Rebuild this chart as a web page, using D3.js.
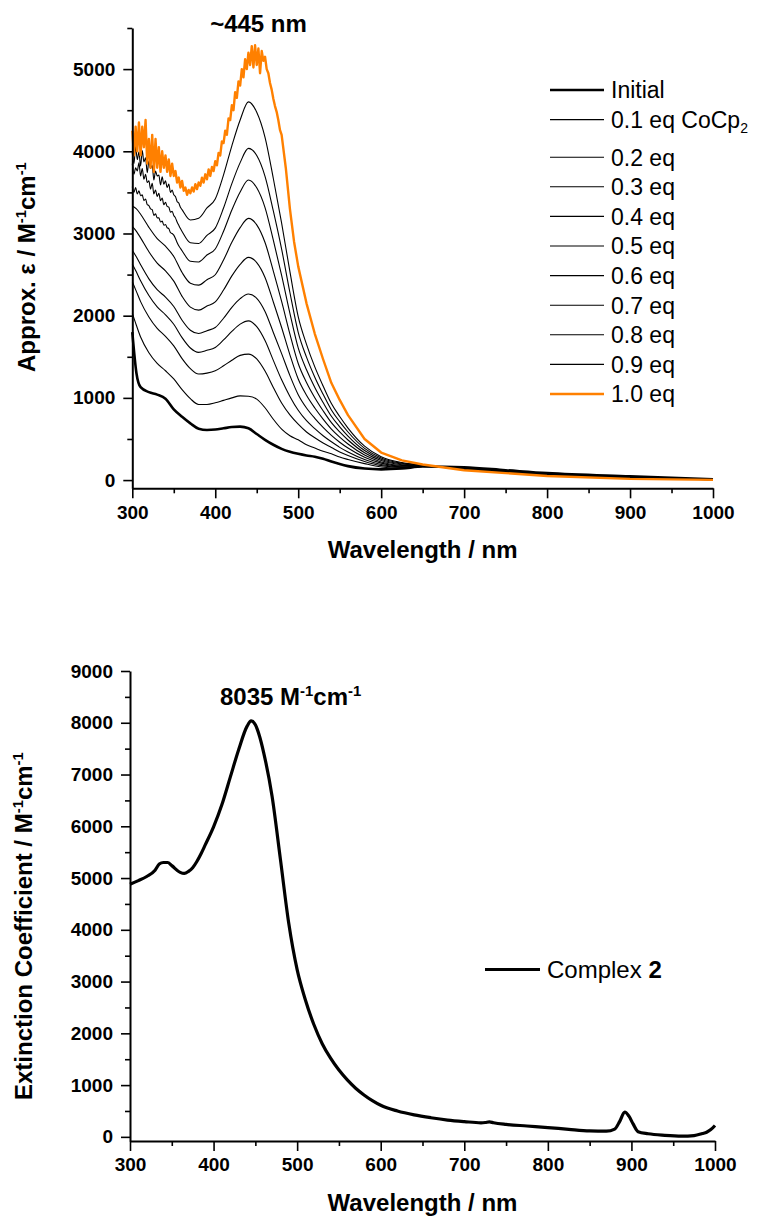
<!DOCTYPE html>
<html><head><meta charset="utf-8">
<script src="https://cdn.jsdelivr.net/npm/d3@7"></script>
<style>
body{margin:0;background:#fff}
svg{display:block}
text{font-family:"Liberation Sans",Arial,sans-serif;fill:#000}
</style>
</head><body>
<svg id="c" width="757" height="1217"></svg>
<script>
// ---------------- DATA ----------------
const wavelengths = [300,305,310,320,330,340,350,360,370,380,390,400,410,420,430,440,450,460,470,480,490,500,510,520,530,540,550,560,580,600,625,650,700,750,800,900,1000];
const initialEps = [1800,1300,1130,1070,1040,990,860,770,690,625,610,615,630,645,650,630,560,490,430,380,345,320,300,285,260,225,195,170,140,130,140,165,155,120,85,45,10];
const eq01 = [2030,1880,1740,1550,1420,1330,1230,1100,990,920,920,940,970,1000,1025,1020,985,880,740,620,540,490,430,390,350,320,280,250,200,160,145,165,150,118,84,44,10];
const eq02 = [2413,2293,2171,1985,1845,1749,1633,1478,1356,1290,1301,1329,1390,1458,1517,1532,1474,1326,1127,938,793,680,585,515,451,397,343,299,227,176,154,167,147,115,81,41,9];
const eq03 = [2630,2531,2424,2245,2106,2011,1896,1733,1607,1554,1579,1614,1705,1809,1897,1937,1866,1697,1456,1220,1018,849,722,626,540,466,398,342,251,190,161,169,145,112,78,39,9];
const eq04 = [2796,2713,2620,2448,2316,2227,2112,1945,1823,1783,1818,1856,1969,2101,2207,2263,2212,2052,1796,1538,1271,1039,877,751,641,544,461,390,278,206,170,172,142,109,75,36,8];
const eq05 = [3086,3026,2947,2778,2639,2546,2420,2235,2104,2068,2118,2167,2312,2484,2625,2709,2646,2465,2167,1856,1524,1229,1032,877,742,621,523,439,305,221,178,174,139,106,72,34,8];
const eq06 = [3334,3299,3234,3075,2938,2846,2721,2525,2396,2372,2438,2498,2678,2892,3071,3184,3105,2890,2543,2173,1776,1418,1187,1002,843,698,586,488,332,237,187,176,137,103,69,31,7];
const eq07 = [3541,3526,3478,3330,3199,3114,2988,2788,2662,2654,2738,2812,3027,3286,3505,3651,3556,3315,2918,2491,2029,1608,1342,1127,944,776,648,536,359,253,195,178,134,101,66,29,6];
const eq08 = [3790,3794,3757,3608,3469,3376,3242,3023,2888,2879,2977,3065,3310,3606,3862,4035,3948,3695,3274,2809,2282,1798,1496,1252,1044,853,711,585,386,269,204,181,131,98,63,26,6];
const eq09 = [3934,3959,3938,3813,3689,3615,3494,3285,3164,3185,3311,3420,3714,4067,4381,4601,4475,4170,3669,3126,2535,1988,1651,1377,1145,931,773,633,413,284,212,183,129,95,60,23,5];

// noisy short-wavelength segments (300–360 nm) of the upper traces
const noisyWl = [300,302,304,306,308,310,312,314,316,318,320,322,324,326,328,330,332,334,336,338,340,342,344,346,348,350,352,354,356,358,360];
const eq07Noisy = [3570,3500,3560,3480,3520,3460,3470,3400,3420,3350,3340,3300,3290,3220,3240,3190,3190,3140,3150,3100,3110,3070,3060,3010,3000,2980,2940,2890,2850,2820,2790];
const eq08Noisy = [3850,3720,3800,3760,3860,3700,3790,3660,3720,3620,3640,3540,3610,3480,3530,3450,3490,3400,3430,3350,3380,3330,3320,3260,3270,3220,3190,3140,3100,3060,3025];
const eq09Noisy = [3980,3850,4060,3900,3990,3820,4010,3870,3920,3740,3880,3790,3830,3650,3760,3700,3710,3590,3690,3600,3640,3560,3600,3500,3530,3470,3450,3390,3370,3320,3290];

// 1.0 eq (noisy trace, own wavelength grid)
const wavelengths10 = [300,302,304,306,308,310,312,314,316,318,320,322,324,326,328,330,332,334,336,338,340,342,344,346,348,350,352,354,356,358,360,362,364,366,368,370,372,374,376,378,380,382,384,386,388,390,392,394,396,398,400,402,404,406,408,410,412,414,416,418,420,422,424,426,428,430,432,434,436,438,440,442,444,446,448,450,452,454,456,458,460,462,464,466,468,470,472,474,476,478,480,485,490,495,500,510,520,530,540,550,560,580,600,625,650,700,750,800,900,1000];
const eq10 = [4250,3950,4300,4000,4350,3950,4300,4050,4380,3850,4150,3800,4200,3750,4150,3800,4050,3750,4000,3800,3950,3750,3900,3700,3850,3700,3760,3620,3680,3560,3640,3520,3560,3470,3530,3490,3560,3510,3600,3540,3620,3580,3680,3620,3720,3660,3780,3700,3810,3760,3880,3830,3980,3950,4120,4100,4250,4200,4400,4380,4560,4500,4720,4650,4850,4800,5000,4900,5120,5000,5200,5050,5280,5020,5290,5050,5250,4950,5220,5100,5150,5000,4950,4830,4750,4640,4550,4480,4380,4260,4200,3800,3300,2900,2600,2150,1780,1470,1180,975,790,500,335,240,190,120,85,50,15,3];

const seriesLabels = ["Initial","0.1 eq CoCp","0.2 eq","0.3 eq","0.4 eq","0.5 eq","0.6 eq","0.7 eq","0.8 eq","0.9 eq","1.0 eq"];

// Complex 2
const complexWl = [300,310,320,330,335,340,345,350,360,365,370,375,380,385,390,400,410,420,430,440,445,450,455,460,470,480,490,500,510,520,530,540,550,560,570,580,590,600,620,640,660,680,700,720,725,730,735,750,775,800,825,850,870,880,886,892,897,902,908,920,940,960,975,985,990,995,1000];
const complexEps = [4880,4950,5030,5150,5270,5300,5300,5240,5110,5090,5130,5200,5320,5470,5640,5990,6420,6950,7480,7930,8035,7960,7740,7420,6580,5360,4120,3230,2640,2170,1800,1520,1290,1100,940,810,700,610,500,425,370,325,295,272,277,290,272,240,210,180,145,115,110,150,300,480,400,250,100,60,30,15,25,65,90,140,220];

const xMajor = [300,400,500,600,700,800,900,1000];
const xMinor = [350,450,550,650,750,850,950];
const yTopMajor = [0,1000,2000,3000,4000,5000];
const yTopMinor = [500,1500,2500,3500,4500,5500];
const yBotMajor = [0,1000,2000,3000,4000,5000,6000,7000,8000,9000];
const yBotMinor = [500,1500,2500,3500,4500,5500,6500,7500,8500];

// ---------------- DRAWING ----------------
const svg = d3.select("#c");
const ORANGE = "#ff8000";
const FONT = '"Liberation Sans",Arial,sans-serif';

function axes(g, x, y, yMaj, yMin) {
  g.append("g").attr("transform", `translate(0,${y.range()[0]})`)
    .call(d3.axisBottom(x).tickValues(xMajor).tickSize(10).tickSizeOuter(0).tickPadding(7).tickFormat(d3.format("d")));
  g.append("g").attr("transform", `translate(0,${y.range()[0]})`)
    .call(d3.axisBottom(x).tickValues(xMinor).tickSize(5).tickSizeOuter(0).tickFormat(""))
    .select(".domain").remove();
  g.append("g").attr("transform", `translate(${x.range()[0]},0)`)
    .call(d3.axisLeft(y).tickValues(yMaj).tickSize(9).tickSizeOuter(0).tickPadding(8).tickFormat(d3.format("d")));
  g.append("g").attr("transform", `translate(${x.range()[0]},0)`)
    .call(d3.axisLeft(y).tickValues(yMin).tickSize(5).tickSizeOuter(0).tickFormat(""))
    .select(".domain").remove();
  g.selectAll(".domain").attr("stroke", "#000").attr("stroke-width", 2);
  g.selectAll(".tick line").attr("stroke", "#000").attr("stroke-width", 1.6);
  g.selectAll(".tick text").attr("font-size", 19).attr("font-weight", "bold")
    .attr("font-family", FONT).attr("fill", "#000");
}

function supText(t, parts, size) {
  parts.forEach(p => {
    const ts = t.append("tspan").text(p.t);
    if (p.sup) ts.attr("font-size", size * 0.62).attr("dy", -size * 0.38);
    else if (p.back) ts.attr("dy", size * 0.38);
  });
}

function withNoise(base, noisyW, noisyV) {
  const pts = noisyW.map((w, i) => [w, noisyV[i]]);
  const last = noisyW[noisyW.length - 1];
  wavelengths.forEach((w, i) => { if (w > last) pts.push([w, base[i]]); });
  return pts;
}

// ---------- TOP CHART ----------
{
  const x = d3.scaleLinear([300, 1000], [132.3, 713]);
  const y = d3.scaleLinear([-100, 5500], [488.3, 28]);
  const g = svg.append("g");
  const line = d3.line().x(d => x(d[0])).y(d => y(d[1])).curve(d3.curveMonotoneX);
  const plain = s => wavelengths.map((w, i) => [w, s[i]]);
  const blackSeries = [
    plain(initialEps), plain(eq01), plain(eq02), plain(eq03), plain(eq04), plain(eq05), plain(eq06),
    withNoise(eq07, noisyWl, eq07Noisy), withNoise(eq08, noisyWl, eq08Noisy), withNoise(eq09, noisyWl, eq09Noisy)
  ];
  blackSeries.forEach((pts, k) => {
    g.append("path").datum(pts)
      .attr("fill", "none").attr("stroke", "#000")
      .attr("stroke-width", k === 0 ? 2.6 : 1.1)
      .attr("stroke-linejoin", "round")
      .attr("d", line);
  });
  g.append("path").datum(wavelengths10.map((w, i) => [w, eq10[i]]))
    .attr("fill", "none").attr("stroke", ORANGE).attr("stroke-width", 2.4)
    .attr("stroke-linejoin", "round")
    .attr("d", d3.line().x(d => x(d[0])).y(d => y(d[1])).curve(d3.curveLinear));

  axes(g, x, y, yTopMajor, yTopMinor);

  // legend
  const lg = g.append("g");
  seriesLabels.forEach((lab, i) => {
    const ly = 90 + i * 29.6 + (i >= 2 ? 8 : 0);
    lg.append("line").attr("x1", 550).attr("x2", 604).attr("y1", ly).attr("y2", ly)
      .attr("stroke", i === 10 ? ORANGE : "#000")
      .attr("stroke-width", (i === 0 || i === 10) ? 2.6 : 1.1);
    const t = lg.append("text").attr("x", 611).attr("y", ly + 8.4).attr("font-size", 23);
    t.append("tspan").text(lab);
    if (i === 1) t.append("tspan").text("2").attr("font-size", 14).attr("dy", 5);
  });

  // axis titles
  g.append("text").attr("x", 422.6).attr("y", 558).attr("text-anchor", "middle")
    .attr("font-size", 24).attr("font-weight", "bold").text("Wavelength / nm");
  const yt = g.append("text").attr("transform", "translate(35,372) rotate(-90)")
    .attr("font-size", 24).attr("font-weight", "bold");
  supText(yt, [{t: "Approx. ε / M"}, {t: "-1", sup: true}, {t: "cm", back: true}, {t: "-1", sup: true}], 24);

  g.append("text").attr("x", 258.5).attr("y", 32).attr("text-anchor", "middle")
    .attr("font-size", 24).attr("font-weight", "bold").text("~445 nm");
}

// ---------- BOTTOM CHART ----------
{
  const x = d3.scaleLinear([300, 1000], [130, 715]);
  const y = d3.scaleLinear([-80, 9000], [1141, 671]);
  const g = svg.append("g");
  g.append("path").datum(complexWl.map((w, i) => [w, complexEps[i]]))
    .attr("fill", "none").attr("stroke", "#000").attr("stroke-width", 3.2)
    .attr("stroke-linejoin", "round")
    .attr("d", d3.line().x(d => x(d[0])).y(d => y(d[1])).curve(d3.curveMonotoneX));

  axes(g, x, y, yBotMajor, yBotMinor);

  g.append("line").attr("x1", 485).attr("x2", 540).attr("y1", 969.5).attr("y2", 969.5)
    .attr("stroke", "#000").attr("stroke-width", 3.2);
  const lt = g.append("text").attr("x", 547).attr("y", 978).attr("font-size", 24);
  lt.append("tspan").text("Complex ");
  lt.append("tspan").attr("font-weight", "bold").text("2");

  g.append("text").attr("x", 422.5).attr("y", 1211).attr("text-anchor", "middle")
    .attr("font-size", 24).attr("font-weight", "bold").text("Wavelength / nm");
  const yt = g.append("text").attr("transform", "translate(32,1100) rotate(-90)")
    .attr("font-size", 24).attr("font-weight", "bold");
  supText(yt, [{t: "Extinction Coefficient / M"}, {t: "-1", sup: true}, {t: "cm", back: true}, {t: "-1", sup: true}], 24);

  const at = g.append("text").attr("x", 220).attr("y", 705).attr("font-size", 24).attr("font-weight", "bold");
  supText(at, [{t: "8035 M"}, {t: "-1", sup: true}, {t: "cm", back: true}, {t: "-1", sup: true}], 24);
}
</script>
</body></html>
